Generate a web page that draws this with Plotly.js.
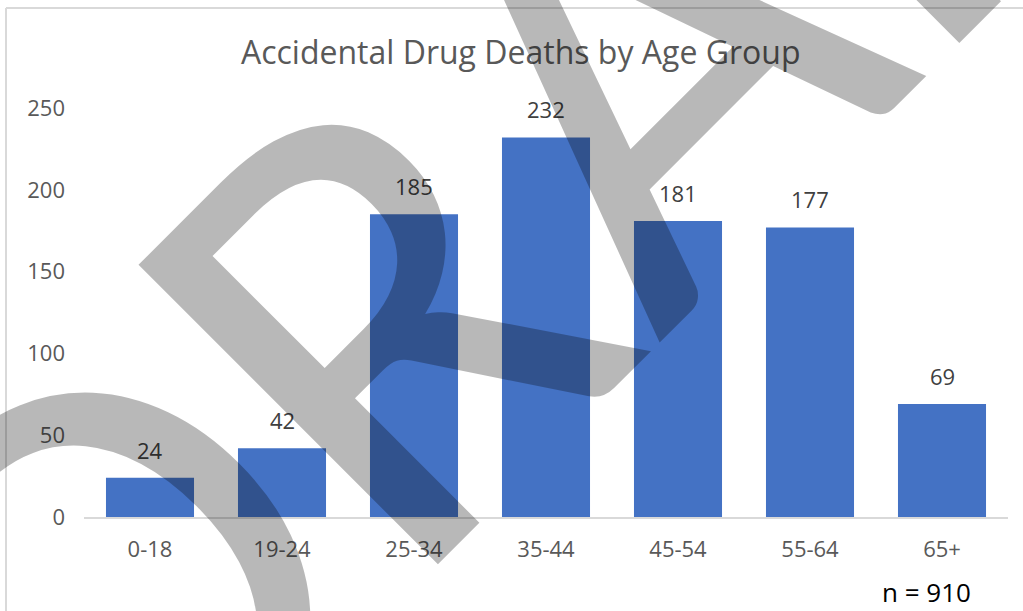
<!DOCTYPE html>
<html>
<head>
<meta charset="utf-8">
<script src="https://cdn.plot.ly/plotly-3.0.1.min.js"></script>
<style>
  html, body { margin: 0; padding: 0; background: #ffffff; }
  #chart { width: 1023px; height: 611px; }
</style>
</head>
<body>
<div id="chart"></div>
<script>
// ---- data ----
const ageGroups = ["0-18", "19-24", "25-34", "35-44", "45-54", "55-64", "65+"];
const deaths = [24, 42, 185, 232, 181, 177, 69];
const yTickValues = [0, 50, 100, 150, 200, 250];
const chartTitle = "Accidental Drug Deaths by Age Group";
const sampleNote = "n = 910";
const watermarkText = "DRAFT";

const FONT = "Segoe UI, Open Sans, sans-serif";

const trace = {
  type: "bar",
  x: ageGroups,
  y: deaths,
  marker: { color: "#4472C4", line: { width: 0 } },
  hoverinfo: "x+y"
};

// data labels built from the arrays
const labelAnnotations = ageGroups.map((g, i) => ({
  x: g, y: deaths[i], xref: "x", yref: "y",
  text: String(deaths[i]),
  showarrow: false,
  xanchor: "center", yanchor: "bottom",
  yshift: 11,
  font: { family: FONT, size: 22, color: "#404040" }
}));

const layout = {
  width: 1023, height: 611,
  margin: { l: 84, r: 15, t: 108, b: 94, pad: 0 },
  paper_bgcolor: "#ffffff",
  plot_bgcolor: "#ffffff",
  showlegend: false,
  bargap: 0.333,
  title: {
    text: chartTitle,
    font: { family: FONT, size: 32, color: "#595959" },
    x: 0.509, xanchor: "center",
    y: 0.913, yanchor: "middle", yref: "container"
  },
  xaxis: {
    type: "category",
    showgrid: false, zeroline: false,
    showline: true, linecolor: "#d9d9d9", linewidth: 2,
    ticks: "",
    ticklabelstandoff: 12,
    tickfont: { family: FONT, size: 22, color: "#595959" }
  },
  yaxis: {
    range: [0, 250],
    tickvals: yTickValues,
    showgrid: false, zeroline: false, showline: false,
    ticks: "",
    ticklabelstandoff: 18,
    tickfont: { family: FONT, size: 22, color: "#595959" }
  },
  shapes: [
    { type: "line", xref: "paper", yref: "paper",
      x0: (6 - 84) / 924, x1: (1030 - 84) / 924,
      y0: (517 - 8) / 409, y1: (517 - 8) / 409,
      line: { color: "#d9d9d9", width: 2 }, layer: "above" },
    { type: "line", xref: "paper", yref: "paper",
      x0: (6 - 84) / 924, x1: (6 - 84) / 924,
      y0: (517 - 8) / 409, y1: (517 - 620) / 409,
      line: { color: "#d9d9d9", width: 2 }, layer: "above" }
  ],
  annotations: labelAnnotations.concat([
    { xref: "paper", yref: "paper",
      x: (926 - 84) / 924, y: (517 - 592) / 409,
      text: sampleNote, showarrow: false,
      xanchor: "center", yanchor: "middle",
      font: { family: FONT, size: 26, color: "#000000" } },
    { xref: "paper", yref: "paper",
      x: (584 - 84) / 924, y: (517 - 100) / 409,
      text: watermarkText, showarrow: false,
      xanchor: "center", yanchor: "middle",
      textangle: -45,
      font: { family: "Carlito, Calibri, Open Sans, sans-serif", size: 660, color: "rgba(0,0,0,0.28)" } }
  ])
};

Plotly.newPlot("chart", [trace], layout, { displayModeBar: false, staticPlot: true });
</script>
</body>
</html>
